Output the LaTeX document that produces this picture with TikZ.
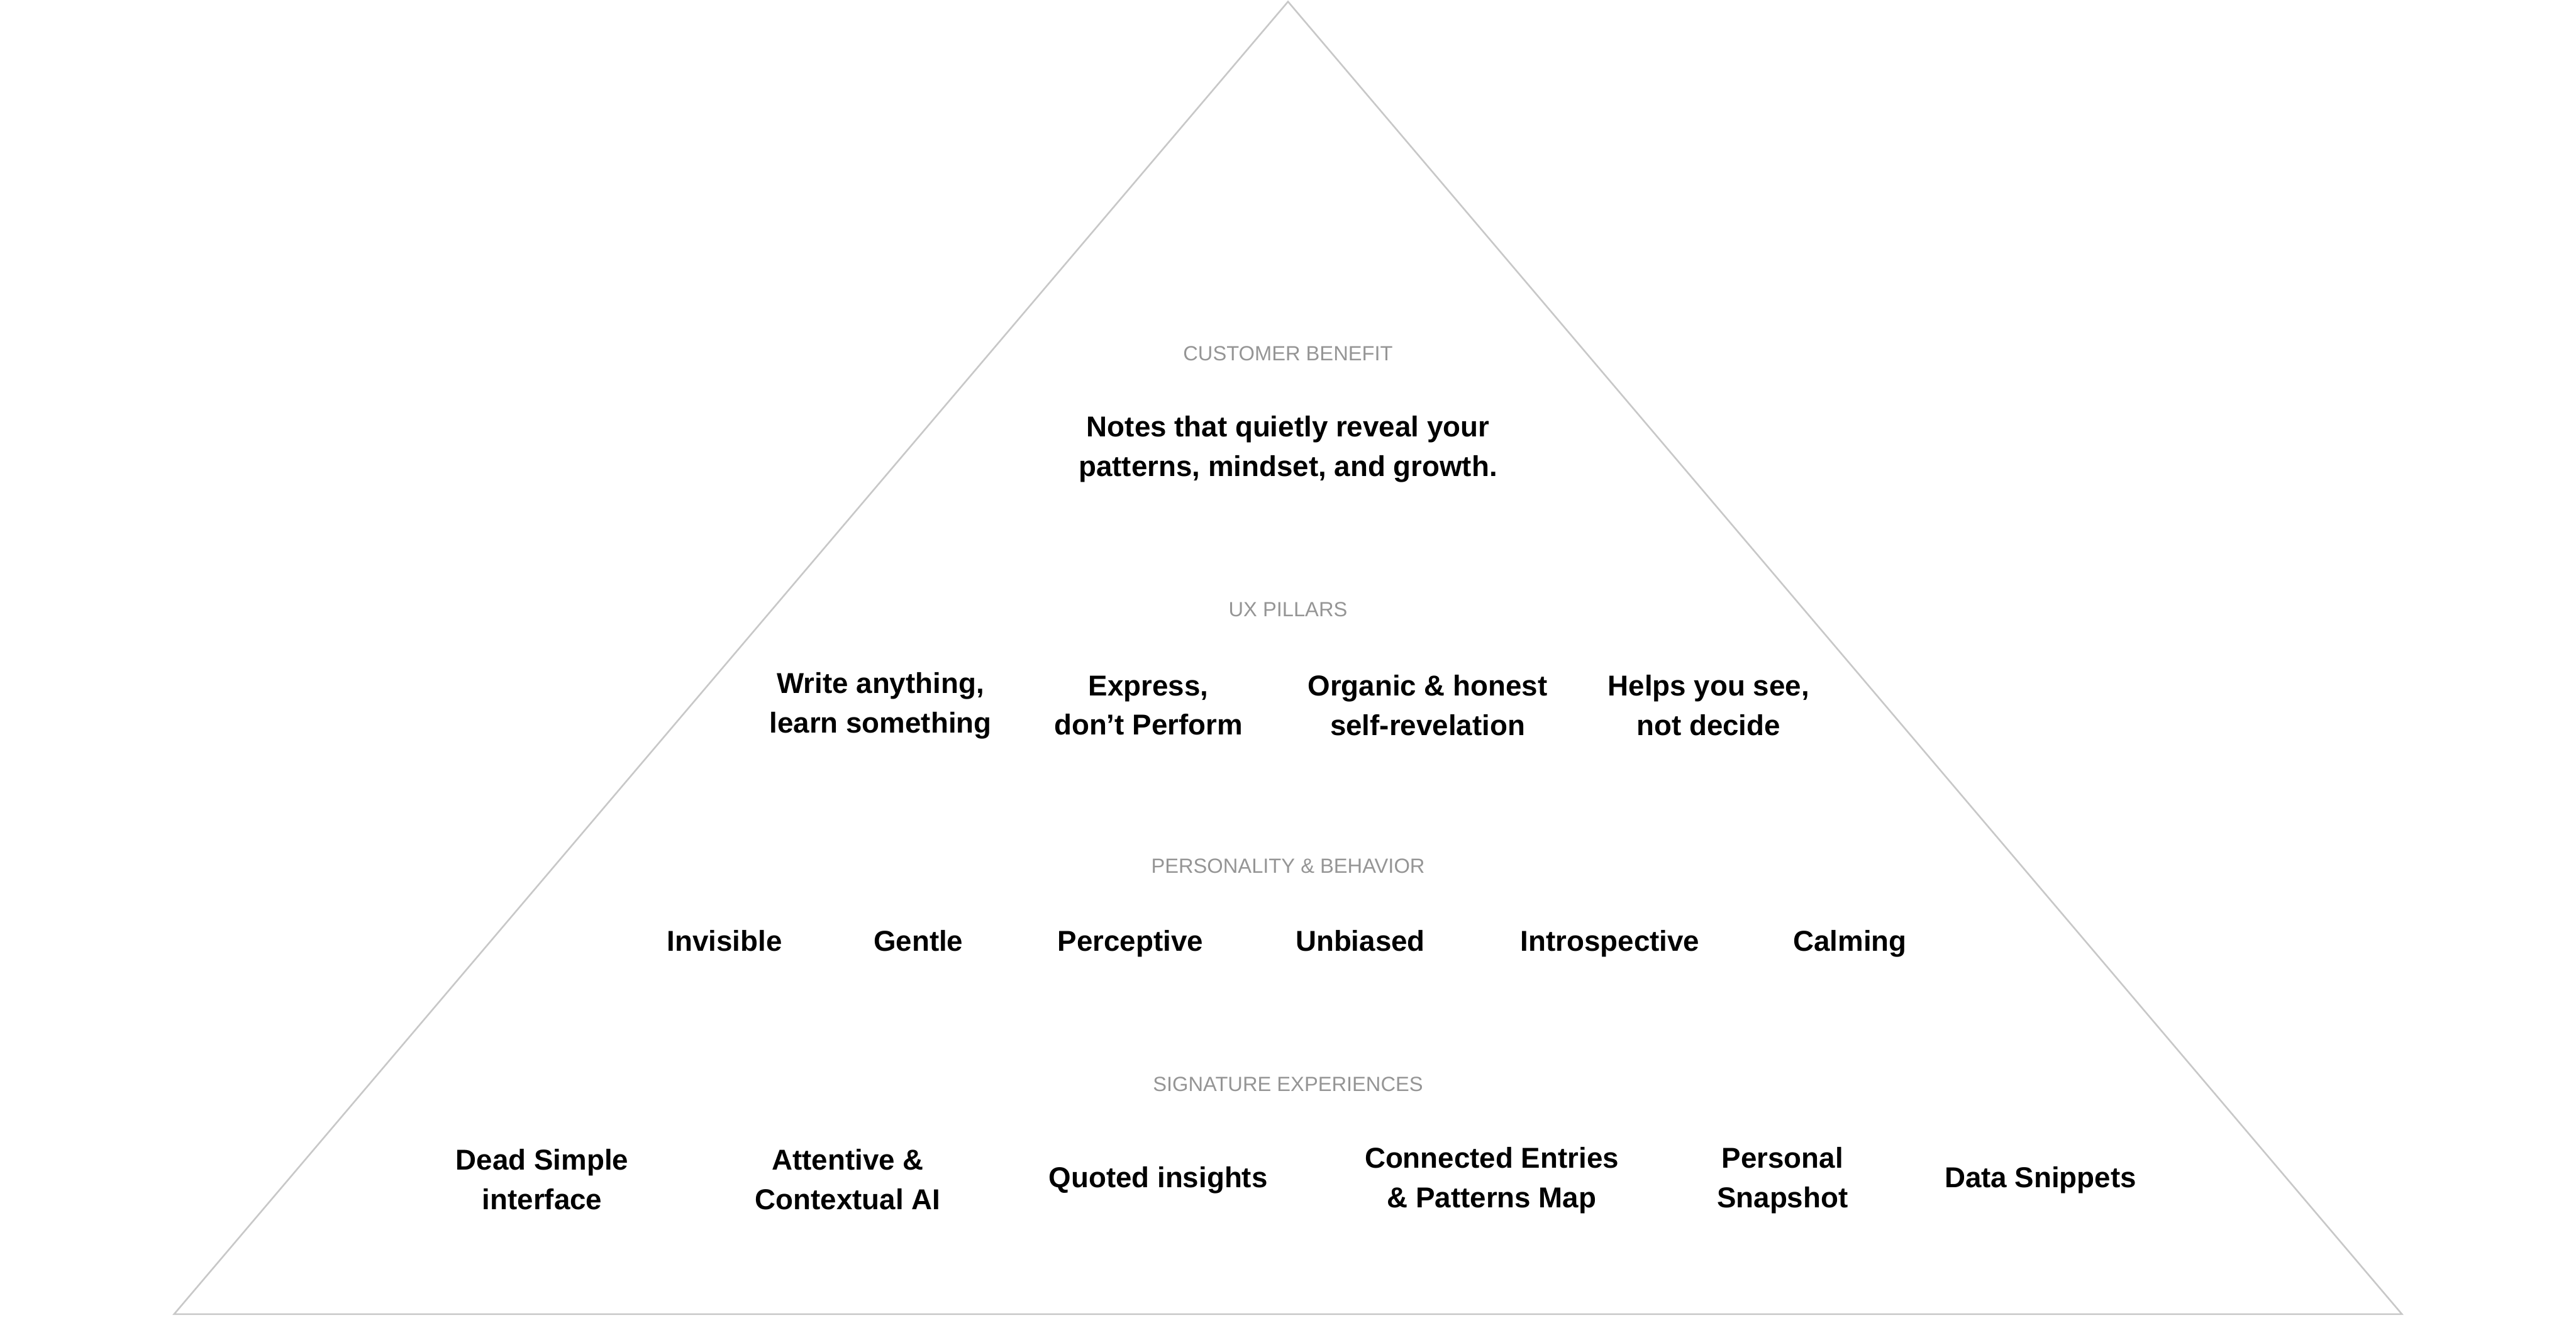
\documentclass[tikz,border=0pt]{standalone}
\usepackage{fontspec}
\setmainfont{Liberation Sans}
\begin{document}
\begin{tikzpicture}[x=1pt,y=-1pt,
  head/.style={text=headgray,font=\fontsize{12.5}{14}\selectfont,inner sep=0pt,anchor=base},
  item/.style={align=center,font=\bfseries\fontsize{17.5}{24}\selectfont,inner sep=0pt},
  one/.style={item,anchor=base}]
\definecolor{headgray}{HTML}{959595}
\definecolor{linegray}{HTML}{C8C8C8}
\useasboundingbox (0,0) rectangle (1568,802);
\coordinate (apex) at (784,1);
\coordinate (bl) at (106,800);
\coordinate (br) at (1462,800);
\draw[linegray,line width=1pt,line join=miter] (apex) -- (br) -- (bl) -- cycle;

\node[head] (h1) at (784,219.5) {CUSTOMER BENEFIT};
\node[item] (cb) at (784,273.5) {Notes that quietly reveal your\\patterns, mindset, and growth.};

\node[head] (h2) at (784,375.5) {UX PILLARS};
\node[item] (p1) at (536,429.5) {Write anything,\\learn something};
\node[item] (p2) at (699,429.5) {Express,\\don’t Perform};
\node[item] (p3) at (869,429.5) {Organic \& honest\\self-revelation};
\node[item] (p4) at (1040,429.5) {Helps you see,\\not decide};

\node[head] (h3) at (784,531.5) {PERSONALITY \& BEHAVIOR};
\node[one] (b1) at (441,579) {Invisible};
\node[one] (b2) at (559,579) {Gentle};
\node[one] (b3) at (688,579) {Perceptive};
\node[one] (b4) at (828,579) {Unbiased};
\node[one] (b5) at (980,579) {Introspective};
\node[one] (b6) at (1126,579) {Calming};

\node[head] (h4) at (784,664.5) {SIGNATURE EXPERIENCES};
\node[item] (s1) at (330,718) {Dead Simple\\interface};
\node[item] (s2) at (516,718) {Attentive \&\\Contextual AI};
\node[one] (s3) at (705,723) {Quoted insights};
\node[item] (s4) at (908,718.5) {Connected Entries\\\& Patterns Map};
\node[item] (s5) at (1085,718.5) {Personal\\Snapshot};
\node[one] (s6) at (1242,723) {Data Snippets};
\end{tikzpicture}
\end{document}
